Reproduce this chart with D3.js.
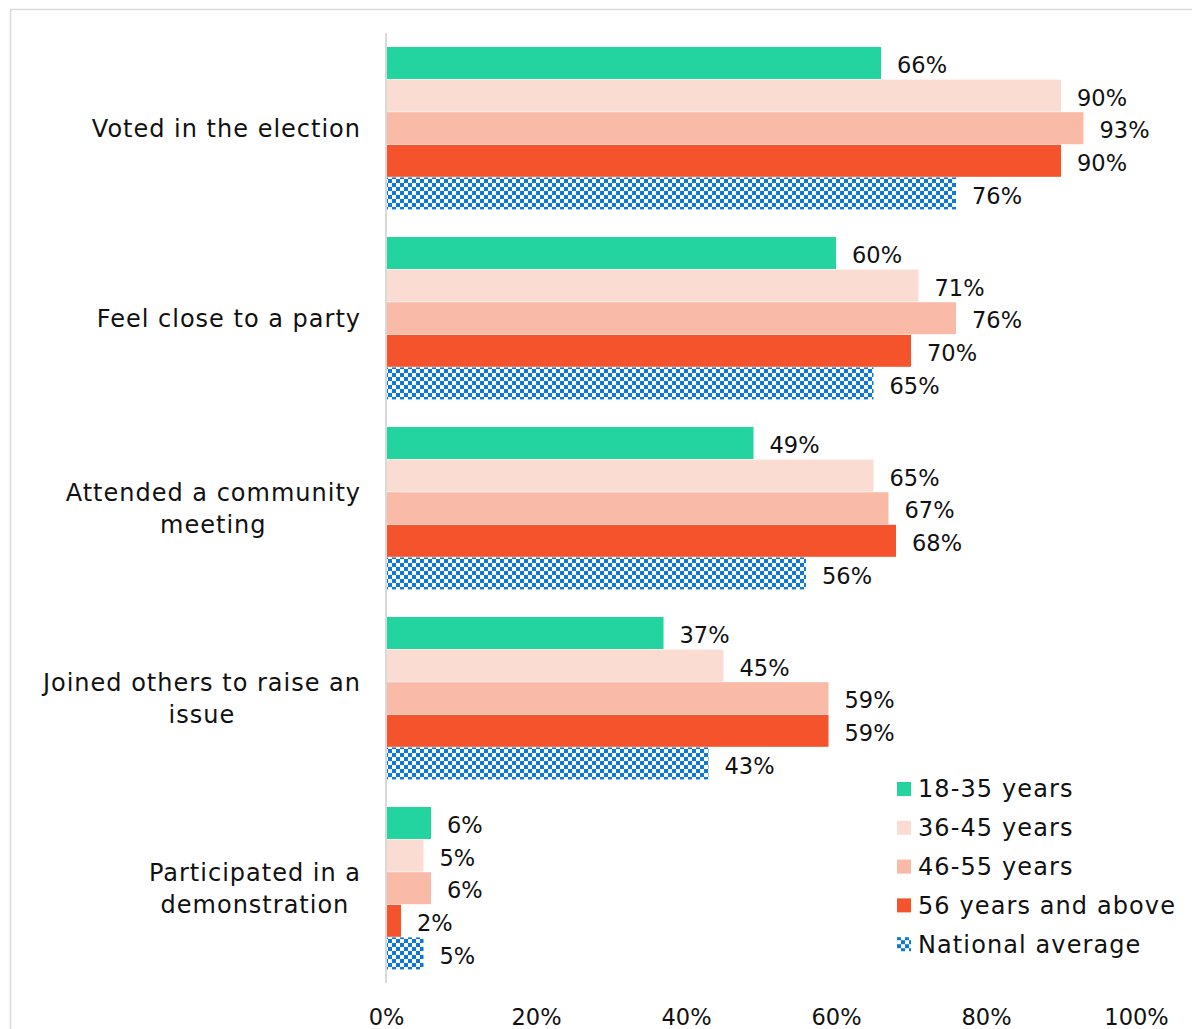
<!DOCTYPE html>
<html><head><meta charset="utf-8">
<script src="https://cdn.jsdelivr.net/npm/d3@7"></script>
<style>body{margin:0;background:#fff}svg{display:block}</style>
</head><body>
<script>
const categories = [["Voted in the election"],["Feel close to a party"],["Attended a community","meeting"],["Joined others to raise an","issue"],["Participated in a","demonstration"]];
const seriesNames = ["18-35 years","36-45 years","46-55 years","56 years and above","National average"];
const age18_35 = [66,60,49,37,6];
const age36_45 = [90,71,65,45,5];
const age46_55 = [93,76,67,59,6];
const age56plus = [90,70,68,59,2];
const national = [76,65,56,43,5];
const series = [age18_35, age36_45, age46_55, age56plus, national];
const xTicks = [0,20,40,60,80,100];
const colors = ["#23d3a0","#fbdcd3","#f9baa7","#f4532b","url(#checker)"];

const W=1192,H=1029, FONT="'DejaVu Sans', sans-serif";
const svg=d3.select("body").append("svg").attr("width",W).attr("height",H);
const defs=svg.append("defs");
const pat=defs.append("pattern").attr("id","checker").attr("patternUnits","userSpaceOnUse").attr("width",8).attr("height",8);
pat.append("rect").attr("width",8).attr("height",8).attr("fill","#fff");
pat.append("rect").attr("width",4).attr("height",4).attr("fill","#0b79d8");
pat.append("rect").attr("x",4).attr("y",4).attr("width",4).attr("height",4).attr("fill","#0b79d8");

svg.append("rect").attr("x",10.5).attr("y",9.5).attr("width",1200).attr("height",1100).attr("fill","none").attr("stroke","#d9d9d9").attr("stroke-width",1.5);

const x=d3.scaleLinear().domain([0,100]).range([386,1136]);
const y0=d3.scaleBand().domain(d3.range(categories.length)).range([33.5,983.5]).paddingInner(27/190).paddingOuter(27/380);
const y1=d3.scaleBand().domain(d3.range(series.length)).range([0,y0.bandwidth()]);

const g=svg.append("g");
categories.forEach((c,i)=>{
  const gg=g.append("g").attr("transform",`translate(0,${y0(i)})`);
  series.forEach((s,j)=>{
    gg.append("rect").attr("x",x(0)).attr("y",y1(j)).attr("width",x(s[i])-x(0)).attr("height",y1.bandwidth()-0.6).attr("fill",colors[j]);
    gg.append("text").attr("x",x(s[i])+16).attr("y",y1(j)+y1.bandwidth()/2+2).attr("dy","0.35em")
      .attr("font-family",FONT).attr("font-size",22.5).attr("fill","#111").text(s[i]+"%");
  });
  const lines=c;
  const t=svg.append("text").attr("font-family",FONT).attr("font-size",24).attr("letter-spacing",1.0).attr("fill","#111").attr("text-anchor","middle");
  const cy=y0(i)+y0.bandwidth()/2;
  lines.forEach((l,k)=>{
    t.append("tspan").attr("y",cy+(k-(lines.length-1)/2)*32).attr("dy","0.35em").text(l);
  });
  let w=0; t.selectAll("tspan").each(function(){w=Math.max(w,this.getComputedTextLength());});
  t.selectAll("tspan").attr("x",361-w/2);
});

svg.append("line").attr("x1",x(0)).attr("x2",x(0)).attr("y1",33).attr("y2",983).attr("stroke","#d9d9d9").attr("stroke-width",2);

const xa=svg.append("g").attr("transform","translate(0,1006)").call(d3.axisBottom(x).tickValues(xTicks).tickFormat(d=>d+"%").tickSize(0));
xa.select(".domain").remove();
xa.selectAll("text").attr("font-family",FONT).attr("font-size",22.5).attr("fill","#111");

const lg=svg.append("g").attr("transform","translate(897,789)");
seriesNames.forEach((n,j)=>{
  const r=lg.append("g").attr("transform",`translate(0,${j*38.8})`);
  r.append("rect").attr("x",0).attr("y",-7).attr("width",14).attr("height",14).attr("fill",colors[j]);
  r.append("text").attr("x",21).attr("y",0).attr("dy","0.35em").attr("font-family",FONT).attr("font-size",24).attr("letter-spacing",1.1).attr("fill","#111").text(n);
});
</script>
</body></html>
